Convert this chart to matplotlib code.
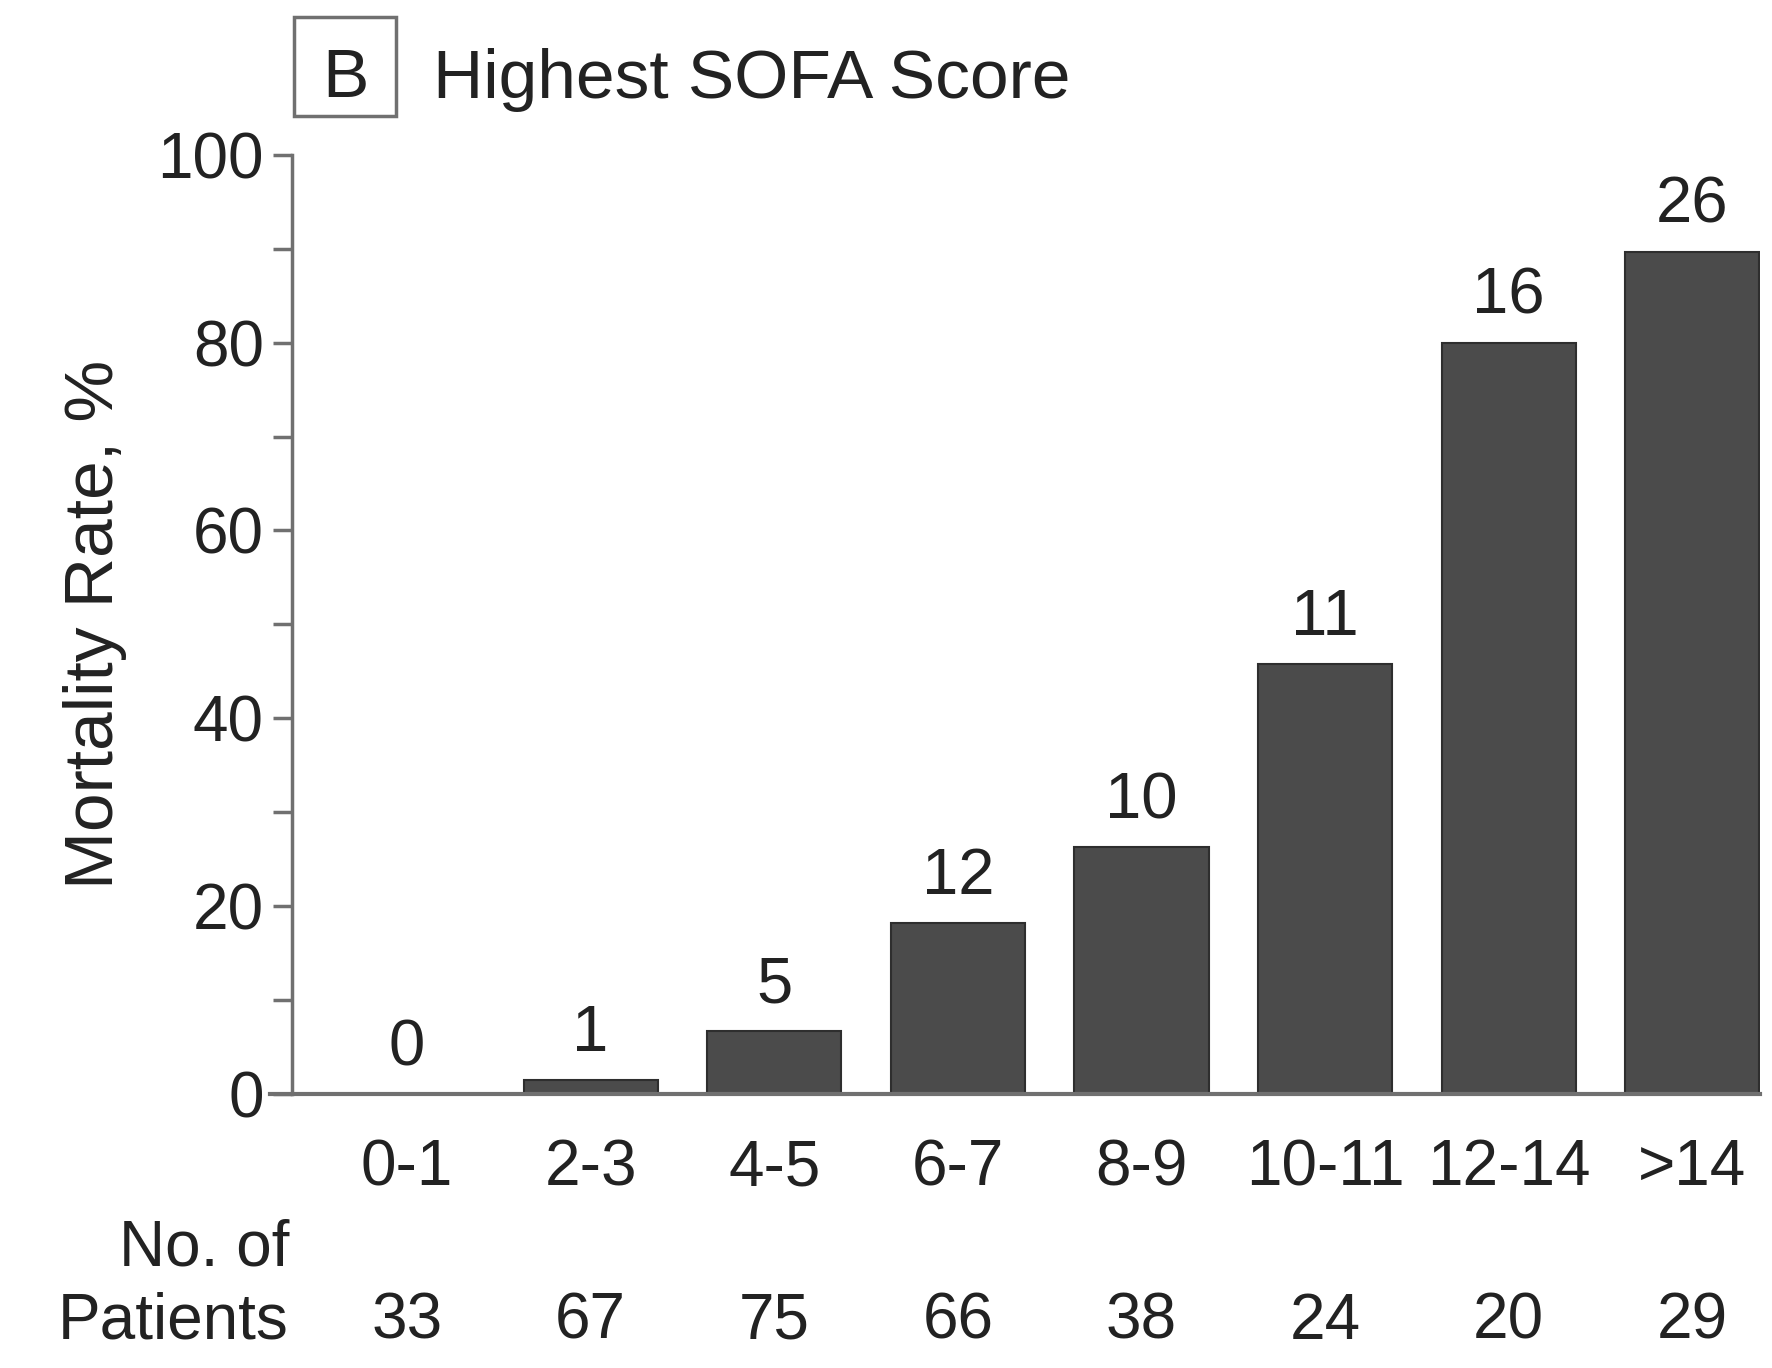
import matplotlib
matplotlib.use("Agg")
import matplotlib.pyplot as plt
from matplotlib.lines import Line2D
from matplotlib.patches import Rectangle

plt.rcParams["font.family"] = ["Liberation Sans", "DejaVu Sans"]

categories = ["0-1", "2-3", "4-5", "6-7", "8-9", "10-11", "12-14", ">14"]
mortality = [0.0, 1.5, 6.7, 18.2, 26.3, 45.8, 80.0, 89.7]
deaths = [0, 1, 5, 12, 10, 11, 16, 26]
patients = [33, 67, 75, 66, 38, 24, 20, 29]
yticks = [0, 20, 40, 60, 80, 100]
yminor = [10, 30, 50, 70, 90]

txt = "#222222"
axc = "#707070"

W, H = 1772, 1368
fig = plt.figure(figsize=(W / 100, H / 100), dpi=100)
ax = fig.add_axes([0.1646, 0.2004, 0.8284, 0.6864])

x = list(range(len(categories)))
ax.bar(x, mortality, width=0.73, color="#4b4b4b", edgecolor="#2e2e2e", linewidth=1.5, zorder=3)

for xi, v, d in zip(x, mortality, deaths):
    ax.annotate(str(d), (xi, v), xytext=(0, 33), textcoords="offset points",
                ha="center", va="center", fontsize=47, color=txt)

ax.set_xlim(-0.628, 7.366)
ax.set_ylim(0, 100)
for s in ["top", "right", "bottom"]:
    ax.spines[s].set_visible(False)
ax.spines["left"].set_color(axc)
ax.spines["left"].set_linewidth(2.5)

ax.set_yticks(yticks)
ax.set_yticks(yminor, minor=True)
ax.tick_params(axis="y", which="both", direction="out", length=14, width=2.5, color=axc,
               labelsize=46, labelcolor=txt, pad=6)
ax.set_xticks(x)
ax.set_xticklabels(categories)
ax.tick_params(axis="x", length=0, labelsize=46, labelcolor=txt, pad=32)

# baseline extends out to the left under the tick marks
ax.add_line(Line2D([-0.015, 1.0], [0, 0], transform=ax.transAxes, color=axc,
                   linewidth=3, clip_on=False, zorder=4))

ax.set_ylabel("Mortality Rate, %", fontsize=50, color=txt, labelpad=22)

# patient counts row
for xi, n in zip(x, patients):
    ax.annotate(str(n), (xi, 0), xycoords=("data", "axes fraction"), xytext=(0, -164),
                textcoords="offset points", ha="center", va="center", fontsize=46, color=txt)
ax.annotate("No. of", (0, 0), xycoords="axes fraction", xytext=(-2, -111),
            textcoords="offset points", ha="right", va="center", fontsize=46, color=txt)
ax.annotate("Patients", (0, 0), xycoords="axes fraction", xytext=(-2, -164),
            textcoords="offset points", ha="right", va="center", fontsize=46, color=txt)

# panel title
fig.patches.append(Rectangle((294 / W, 1 - 116 / H), 102 / W, 99 / H, transform=fig.transFigure,
                             facecolor="white", edgecolor=axc, linewidth=2.5))
fig.text(345 / W, 1 - 79 / H, "B", fontsize=50, color=txt, ha="center", va="center")
fig.text(433 / W, 1 - 80 / H, "Highest SOFA Score", fontsize=50, color=txt,
         ha="left", va="center")

fig.savefig("out.png", dpi=100)
